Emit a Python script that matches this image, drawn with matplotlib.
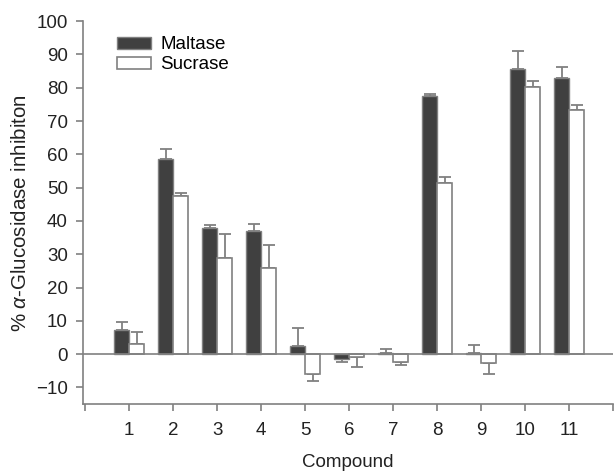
import matplotlib
matplotlib.use('Agg')
import matplotlib.pyplot as plt
import numpy as np

plt.rcParams['font.family'] = ['Liberation Sans', 'DejaVu Sans']
plt.rcParams['mathtext.fontset'] = 'custom'
plt.rcParams['mathtext.it'] = 'Liberation Sans:italic'

compounds = ['1', '2', '3', '4', '5', '6', '7', '8', '9', '10', '11']
maltase = [7.2, 58.5, 37.8, 37.0, 2.5, -1.3, 0.4, 77.6, 0.4, 85.5, 83.0]
maltase_err = [2.6, 3.2, 1.0, 2.0, 5.3, 1.0, 1.1, 0.6, 2.5, 5.5, 3.1]
sucrase = [3.0, 47.5, 29.0, 26.0, -6.0, -0.8, -2.3, 51.4, -2.8, 80.2, 73.4]
sucrase_err = [3.8, 1.0, 7.0, 6.7, 2.0, 3.0, 1.0, 1.7, 3.3, 1.9, 1.4]

GREY = '#808080'
TXT = '#222222'
W = 0.34

x = np.arange(1, len(compounds) + 1)

fig = plt.figure(figsize=(6.15, 4.71), dpi=100)
ax = fig.add_axes([0.135, 0.142, 0.862, 0.813])

def one_sided(vals, errs):
  lo = [0 if v >= 0 else e for v, e in zip(vals, errs)]
  hi = [e if v >= 0 else 0 for v, e in zip(vals, errs)]
  return [lo, hi]

ax.bar(x - W/2, maltase, W, color='#404040', edgecolor=GREY, linewidth=1.0,
       label='Maltase', zorder=2)
ax.bar(x + W/2, sucrase, W, color='white', edgecolor=GREY, linewidth=1.2,
       label='Sucrase', zorder=2)
ax.errorbar(x - W/2, maltase, yerr=one_sided(maltase, maltase_err), fmt='none',
            ecolor=GREY, elinewidth=1.3, capsize=4.5, capthick=1.3, zorder=1)
ax.errorbar(x + W/2, sucrase, yerr=one_sided(sucrase, sucrase_err), fmt='none',
            ecolor=GREY, elinewidth=1.3, capsize=4.5, capthick=1.3, zorder=1)

ax.axhline(0, color=GREY, linewidth=1.2, zorder=3)

ax.set_ylim(-15, 100)
ax.set_yticks(range(-10, 101, 10))
ax.set_xlim(-0.05, 12)
ax.set_xticks(range(0, 13))
ax.set_xticklabels([''] + compounds + [''])

for s in ['top', 'right']:
  ax.spines[s].set_visible(False)
for s in ['left', 'bottom']:
  ax.spines[s].set_color(GREY)
  ax.spines[s].set_linewidth(1.2)
ax.tick_params(colors=GREY, labelcolor=TXT, labelsize=13.5, length=5, width=1.2)
ax.tick_params(axis='x', pad=8)
ax.tick_params(axis='y', pad=6)

ax.set_ylabel(r'% $\mathit{\alpha}$-Glucosidase inhibiton', fontsize=14.8, color=TXT, labelpad=4)
ax.set_xlabel('Compound', fontsize=13.5, color=TXT, labelpad=11)

ax.legend(loc='upper left', bbox_to_anchor=(0.05, 0.98), frameon=False, fontsize=13.5,
          handlelength=1.8, handleheight=0.6, handletextpad=0.5,
          labelspacing=0.15, borderaxespad=0)

fig.savefig('out.png', dpi=100)
